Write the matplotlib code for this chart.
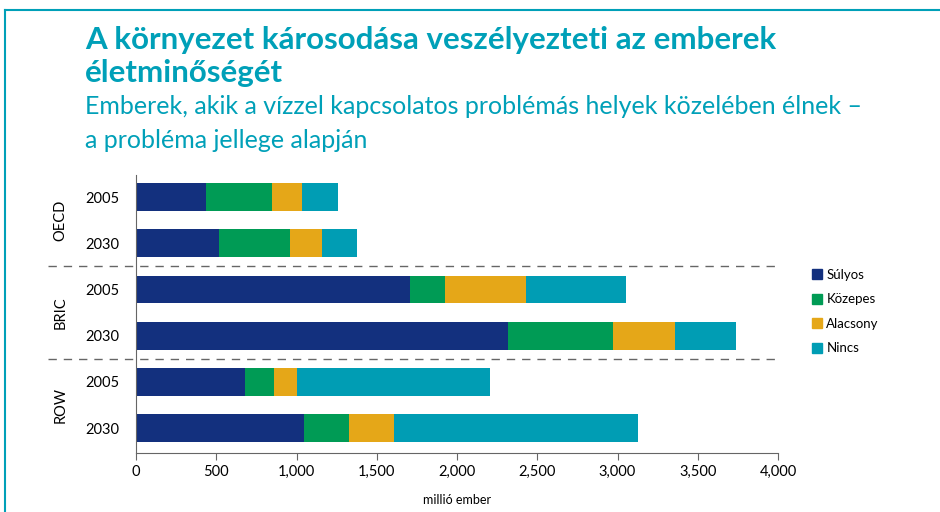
import matplotlib
matplotlib.use("Agg")
import matplotlib.pyplot as plt
import matplotlib.transforms as mtransforms
from matplotlib.patches import Patch
import numpy as np

plt.rcParams['font.family'] = ['Lato', 'DejaVu Sans']

# adatok (millió ember)
groups = ["OECD", "BRIC", "ROW"]
years = ["2005", "2030", "2005", "2030", "2005", "2030"]
series = ["Súlyos", "Közepes", "Alacsony", "Nincs"]
sulyos = [435, 517, 1709, 2316, 681, 1046]
kozepes = [410, 441, 214, 657, 176, 284]
alacsony = [189, 202, 505, 387, 145, 277]
nincs = [227, 220, 627, 381, 1202, 1521]
colors = ["#13307e", "#009b55", "#e5a718", "#009db4"]
xticks = [0, 500, 1000, 1500, 2000, 2500, 3000, 3500, 4000]

teal = "#00a0b8"

fig = plt.figure(figsize=(9.4, 5.12), dpi=100)

# keret
fig.add_artist(plt.Line2D([5/940, 1], [1 - 10/512, 1 - 10/512], color=teal, lw=1.5))
fig.add_artist(plt.Line2D([5/940, 5/940], [0, 1 - 10/512], color=teal, lw=1.5))

fig.text(85/940, 1 - 40/512, "A környezet károsodása veszélyezteti az emberek",
         color=teal, fontsize=22.5, fontweight="bold", va="center")
fig.text(85/940, 1 - 73/512, "életminőségét",
         color=teal, fontsize=22.5, fontweight="bold", va="center")
fig.text(85/940, 1 - 107/512, "Emberek, akik a vízzel kapcsolatos problémás helyek közelében élnek –",
         color=teal, fontsize=18, va="center")
fig.text(85/940, 1 - 140/512, "a probléma jellege alapján",
         color=teal, fontsize=18, va="center")

ax = fig.add_axes([136/940, 59/512, 642/940, 278/512])

y = np.arange(len(years))
left = np.zeros(len(years))
for vals, name, c in zip([sulyos, kozepes, alacsony, nincs], series, colors):
    ax.barh(y, vals, left=left, height=0.6, color=c, label=name)
    left = left + np.array(vals)

ax.set_ylim(5.54, -0.48)
ax.set_xlim(0, 4000)
ax.set_xticks(xticks)
ax.set_xticklabels([f"{v:,}" for v in xticks], fontsize=10.5)
ax.set_yticks(y)
ax.set_yticklabels(years, fontsize=10.5)
ax.tick_params(axis="y", length=0, pad=12)
ax.tick_params(axis="x", length=5, color="#666666", direction="out")
for s in ["top", "right"]:
    ax.spines[s].set_visible(False)
for s in ["left", "bottom"]:
    ax.spines[s].set_color("#666666")
ax.set_xlabel("millió ember", fontsize=9, labelpad=11)

trans = mtransforms.blended_transform_factory(ax.transAxes, ax.transData)
for yy in [1.5, 3.5]:
    ax.plot([-0.137, 1.0], [yy, yy], transform=trans, color="#666666", lw=1,
            dashes=(6, 5), clip_on=False)
for i, g in enumerate(groups):
    ax.text(-0.118, 2 * i + 0.5, g, transform=trans, rotation=90,
            ha="center", va="center", fontsize=10.5)

handles = [Patch(color=c, label=s) for c, s in zip(colors, series)]
fig.legend(handles=handles, loc="upper left", bbox_to_anchor=(800/940, 1 - 257/512),
           frameon=False, fontsize=9.5, handlelength=0.8, handleheight=0.8,
           handletextpad=0.3, labelspacing=0.95)

plt.savefig("out.png", dpi=100)
